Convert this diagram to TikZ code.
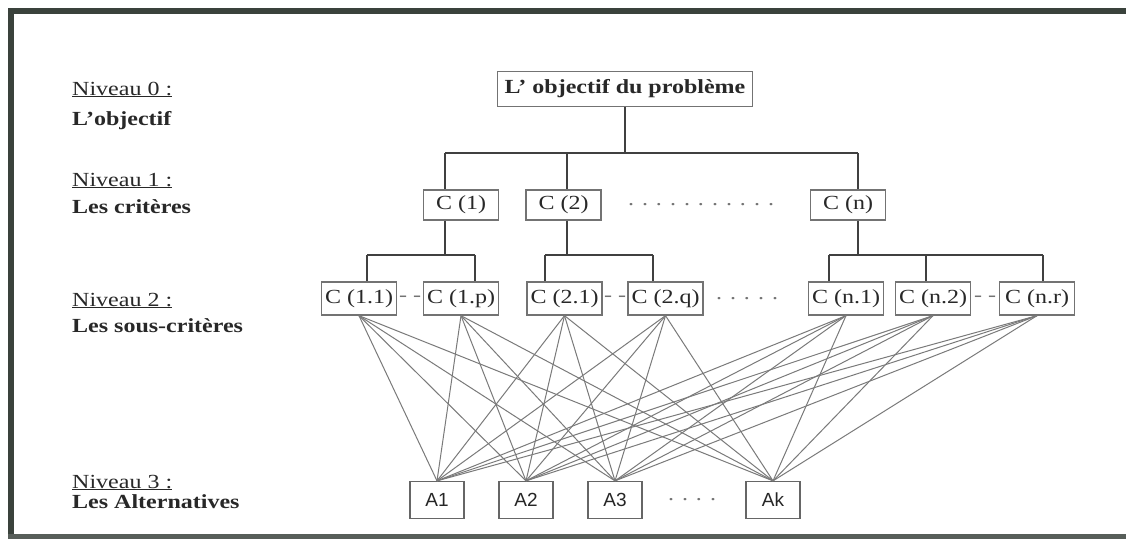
\documentclass[tikz,border=0pt]{standalone}
\usepackage{fontspec}
\setmainfont{Liberation Serif}[FakeStretch=1.2]
\newfontfamily\altfont{Liberation Sans}
\usetikzlibrary{calc}

\definecolor{framecol}{RGB}{58,66,60}
\definecolor{inkcol}{RGB}{40,40,40}

\tikzset{
  lvl/.style={anchor=base west, inner sep=0pt, text=inkcol},
  critbox/.style={draw=black!55, line width=1.3pt, fill=white, text=inkcol,
    inner sep=0pt, minimum height=30pt, minimum width=75pt},
  subbox/.style={critbox, minimum height=33pt},
  altbox/.style={draw=black!60, line width=1.3pt, fill=white, text=black!85,
    inner sep=0pt, minimum height=37pt, minimum width=54pt,
    font=\altfont\fontsize{19}{22}\selectfont},
  link/.style={draw=black!75, line width=1.3pt},
  rel/.style={draw=black!52, line width=1pt},
  gap/.style={inner sep=0pt, text=black!55},
}

\begin{document}
\begin{tikzpicture}[x=1pt, y=-1pt, font=\fontsize{20}{24}\selectfont]
  \useasboundingbox (0,0) rectangle (1126,542);
  \fill[white] (0,0) rectangle (1126,542);

  % frame
  \fill[framecol] (8,8) rectangle (1126,14);
  \fill[framecol] (8,8) rectangle (14,539);
  \fill[framecol!85] (8,534) rectangle (1126,539);

  % level captions
  \node[lvl] (n0) at (72,95)  {\underline{Niveau 0 :}};
  \node[lvl] (t0) at (72,125) {\bfseries L'objectif};
  \node[lvl] (n1) at (72,186) {\underline{Niveau 1 :}};
  \node[lvl] (t1) at (72,213) {\bfseries Les critères};
  \node[lvl] (n2) at (72,306) {\underline{Niveau 2 :}};
  \node[lvl] (t2) at (72,332) {\bfseries Les sous-critères};
  \node[lvl] (n3) at (72,488) {\underline{Niveau 3 :}};
  \node[lvl] (t3) at (72,508) {\bfseries Les Alternatives};

  % junction positions
  \coordinate (bus1) at (0,153);
  \coordinate (bus2) at (0,255);
  \coordinate (d1) at (445,0);
  \coordinate (d2) at (567,0);
  \coordinate (dn) at (858,0);
  \coordinate (e11) at (367,0);
  \coordinate (e1p) at (475,0);
  \coordinate (e21) at (545,0);
  \coordinate (e2q) at (653,0);
  \coordinate (en1) at (829,0);
  \coordinate (en2) at (926,0);
  \coordinate (enr) at (1043,0);

  % nodes
  \node[critbox, minimum width=255pt, minimum height=35pt] (top) at (625,89)
    {\bfseries L' objectif du problème};

  \node[critbox] (c1) at (461,205) {C (1)};
  \node[critbox] (c2) at (563.5,205) {C (2)};
  \node[critbox] (cn) at (848,205) {C (n)};
  \node[gap] (g1) at (701,205) {. . . . . . . . . . .};

  \node[subbox] (c11) at (359,298.5) {C (1.1)};
  \node[subbox] (c1p) at (461,298.5) {C (1.p)};
  \node[subbox] (c21) at (564.5,298.5) {C (2.1)};
  \node[subbox] (c2q) at (665.5,298.5) {C (2.q)};
  \node[subbox] (cn1) at (846,298.5) {C (n.1)};
  \node[subbox] (cn2) at (933,298.5) {C (n.2)};
  \node[subbox] (cnr) at (1037,298.5) {C (n.r)};
  \node[gap] (g11) at (410,298.5) {- -};
  \node[gap] (g21) at (615,298.5) {- -};
  \node[gap] (g2)  at (747,298.5) {. . . . .};
  \node[gap] (gn2) at (985,298.5) {- -};

  \node[altbox] (a1) at (437,500) {A1};
  \node[altbox] (a2) at (526,500) {A2};
  \node[altbox] (a3) at (615,500) {A3};
  \node[altbox] (ak) at (773,500) {Ak};
  \node[gap] (g3) at (692,500) {. . . .};

  % alternatives linked to every sub-criterion
  \foreach \s in {c11,c1p,c21,c2q,cn1,cn2,cnr}
    \foreach \a in {a1,a2,a3,ak}
      \draw[rel] (\s.south) -- (\a.north);

  % objective to criteria
  \draw[link] (top.south) -- (top.south |- bus1);
  \draw[link] (d1 |- bus1) -- (dn |- bus1);
  \foreach \d/\c in {d1/c1, d2/c2, dn/cn}
    \draw[link] (\d |- bus1) -- (\d |- \c.north);

  % criteria to sub-criteria
  \foreach \d/\c in {d1/c1, d2/c2, dn/cn}
    \draw[link] (\d |- \c.south) -- (\d |- bus2);
  \draw[link] (e11 |- bus2) -- (e1p |- bus2);
  \draw[link] (e21 |- bus2) -- (e2q |- bus2);
  \draw[link] (en1 |- bus2) -- (enr |- bus2);
  \foreach \e/\c in {e11/c11, e1p/c1p, e21/c21, e2q/c2q, en1/cn1, en2/cn2, enr/cnr}
    \draw[link] (\e |- bus2) -- (\e |- \c.north);
\end{tikzpicture}
\end{document}
